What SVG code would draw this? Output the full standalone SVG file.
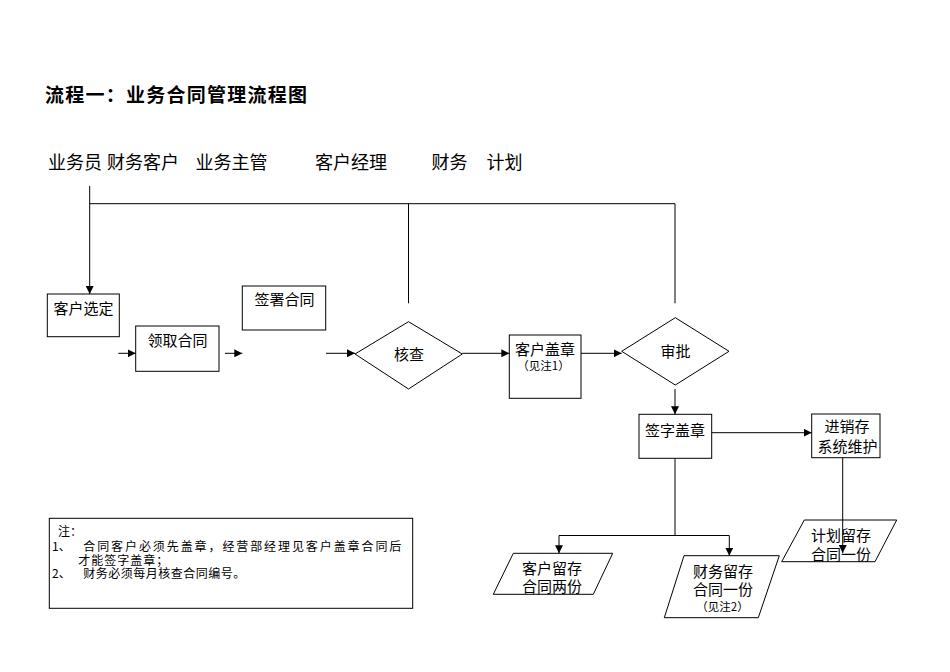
<svg xmlns="http://www.w3.org/2000/svg" width="950" height="672" viewBox="0 0 950 672">
<defs>
<marker id="arr" viewBox="0 0 10 10" refX="10" refY="5" markerWidth="8" markerHeight="8" markerUnits="userSpaceOnUse" orient="auto">
<path d="M0,0 L10,5 L0,10 z" fill="#000"/>
</marker>
<style>
text{font-family:"Noto Sans CJK SC","Liberation Sans",sans-serif;fill:#000;}
.t{font-size:15px;text-anchor:middle;dominant-baseline:central;}
.s{font-size:11.5px;}
.h{font-size:18px;dominant-baseline:central;}
.n{font-size:12px;dominant-baseline:central;}
.shape{fill:#fff;stroke:#000;stroke-width:1;}
.c{fill:none;stroke:#000;stroke-width:1;}
.a{fill:none;stroke:#000;stroke-width:1;marker-end:url(#arr);}
</style>
</defs>
<rect width="950" height="672" fill="#fff"/>
<text x="45" y="93" font-size="19" font-weight="bold" dominant-baseline="central" textLength="262" lengthAdjust="spacing">流程一：业务合同管理流程图</text>
<g id="lanes">
<text class="h" x="48" y="161">业务员</text>
<text class="h" x="107" y="161">财务客户</text>
<text class="h" x="195.5" y="161">业务主管</text>
<text class="h" x="315" y="161">客户经理</text>
<text class="h" x="431.5" y="161">财务</text>
<text class="h" x="486.5" y="161">计划</text>
</g>
<g id="n-select"><rect class="shape" x="47.3" y="294" width="72" height="42.7"/><text class="t" x="83.5" y="307">客户选定</text></g>
<g id="n-receive"><rect class="shape" x="135.7" y="326" width="83.3" height="45.3"/><text class="t" x="177.5" y="339">领取合同</text></g>
<g id="n-sign"><rect class="shape" x="242.3" y="286" width="83.4" height="44"/><text class="t" x="284.5" y="298">签署合同</text></g>
<g id="n-check"><polygon class="shape" points="355,354 408.5,321.7 462.3,354 408.5,389"/><text class="t" x="409" y="353">核查</text></g>
<g id="n-custstamp"><rect class="shape" x="509.3" y="335" width="71.7" height="63.3"/><text class="t" x="545" y="348">客户盖章<tspan class="s" x="543.5" y="365">（见注1）</tspan></text></g>
<g id="n-approve"><polygon class="shape" points="621.7,351.3 675.3,317.7 729,351.3 675.3,385"/><text class="t" x="675.5" y="350">审批</text></g>
<g id="n-signstamp"><rect class="shape" x="639" y="414.3" width="72.7" height="44"/><text class="t" x="675" y="429">签字盖章</text></g>
<g id="n-erp"><rect class="shape" x="811.7" y="414" width="68.3" height="43.7"/><text class="t" x="847" y="425">进销存<tspan x="847.5" y="445">系统维护</tspan></text></g>
<g id="n-custkeep"><polygon class="shape" points="513.3,553.3 612.7,553.3 593.3,594.3 493.3,594.3"/><text class="t" x="552" y="567">客户留存<tspan x="552" y="585">合同两份</tspan></text></g>
<g id="n-finkeep"><polygon class="shape" points="684,555.7 779.3,555.7 758.3,617.7 664.3,617.7"/><text class="t" x="723" y="570">财务留存<tspan x="723" y="588">合同一份</tspan><tspan class="s" x="722.5" y="606">（见注2）</tspan></text></g>
<g id="n-plankeep"><polygon class="shape" points="804.3,520 896.7,520 875,561.7 781.7,561.7"/><text class="t" x="841" y="534">计划留存<tspan x="841" y="553">合同一份</tspan></text></g>
<g id="n-note"><rect class="shape" x="49.3" y="518.3" width="363.4" height="90"/>
<text class="n" x="58" y="530">注：<tspan x="52" y="544.5">1、</tspan><tspan x="83.3" y="544.5" textLength="318" lengthAdjust="spacing">合同客户必须先盖章，经营部经理见客户盖章合同后</tspan><tspan x="78.3" y="558.5" textLength="90" lengthAdjust="spacing">才能签字盖章；</tspan><tspan x="52" y="572">2、</tspan><tspan x="83.3" y="572" textLength="162" lengthAdjust="spacing">财务必须每月核查合同编号。</tspan></text>
</g>
<g id="connectors">
<line class="a" x1="89.7" y1="186" x2="89.7" y2="294"/>
<line class="c" x1="89.7" y1="203.7" x2="675" y2="203.7" stroke="#333"/>
<line class="c" x1="408.5" y1="203.7" x2="408.5" y2="303.3"/>
<line class="c" x1="675" y1="203.7" x2="675" y2="303.3"/>
<line class="a" x1="118.3" y1="353.3" x2="135.7" y2="353.3"/>
<line class="a" x1="225" y1="353.3" x2="242.3" y2="353.3"/>
<line class="a" x1="326" y1="353.3" x2="355" y2="353.3"/>
<line class="a" x1="462.3" y1="353.3" x2="509.3" y2="353.3"/>
<line class="a" x1="581" y1="353.3" x2="621.7" y2="353.3"/>
<line class="a" x1="675" y1="389" x2="675" y2="414.3"/>
<line class="a" x1="711.7" y1="432.7" x2="811.7" y2="432.7"/>
<line class="a" x1="842.7" y1="457.7" x2="842.7" y2="553"/>
<line class="c" x1="675" y1="458.3" x2="675" y2="535.5"/>
<line class="c" x1="559" y1="535.5" x2="729.3" y2="535.5"/>
<line class="a" x1="559" y1="535.5" x2="559" y2="553.3"/>
<line class="a" x1="729.3" y1="535.5" x2="729.3" y2="555.7"/>
</g>
</svg>
